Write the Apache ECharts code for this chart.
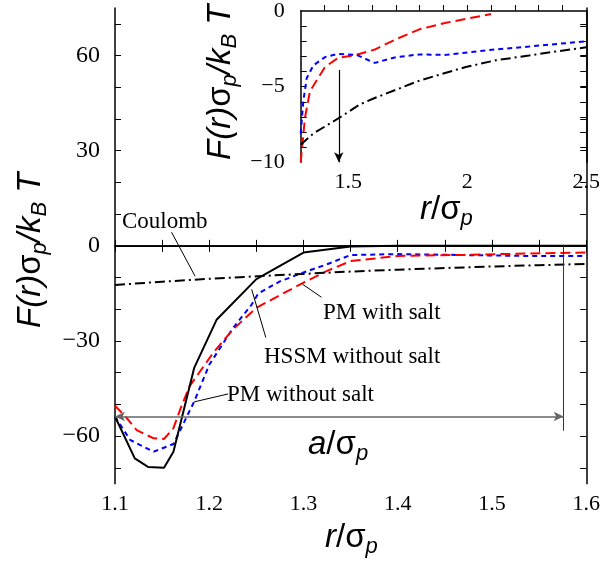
<!DOCTYPE html>
<html>
<head>
<meta charset="utf-8">
<script src="https://cdn.jsdelivr.net/npm/echarts@6/dist/echarts.min.js"></script>
<style>
html, body { margin: 0; padding: 0; background: #fff; }
#chart { width: 603px; height: 564px; }
</style>
</head>
<body>
<div id="chart"></div>
<script>
// main panel: r/σp 1.1 .. 1.6
const hssmR = [1.1, 1.121, 1.135, 1.152, 1.162, 1.184, 1.208, 1.25, 1.3, 1.35, 1.4, 1.5, 1.6];
const hssmF = [-53.8, -67.0, -69.7, -70.0, -64.9, -38.5, -23.2, -10.5, -2.1, -0.2, 0, 0, 0];

const pmNoSaltR = [1.1, 1.116, 1.141, 1.162, 1.184, 1.2, 1.225, 1.245, 1.252, 1.275, 1.3, 1.325, 1.35, 1.4, 1.47, 1.54, 1.6];
const pmNoSaltF = [-53.8, -61.2, -64.9, -62.5, -49.1, -37.5, -26, -18.5, -15, -11.2, -8.4, -5.8, -2.9, -2.6, -2.9, -3.2, -3.2];

const pmSaltR = [1.1, 1.111, 1.123, 1.141, 1.152, 1.162, 1.169, 1.179, 1.204, 1.225, 1.25, 1.3, 1.325, 1.35, 1.4, 1.47, 1.54, 1.6];
const pmSaltF = [-50.4, -53.8, -58.1, -60.7, -60.9, -57.5, -51.7, -44.3, -33.8, -26.4, -19.5, -11.6, -7.9, -4.8, -3.2, -2.85, -2.4, -2.1];

const coulR = [1.1, 1.15, 1.2, 1.25, 1.3, 1.35, 1.4, 1.45, 1.5, 1.55, 1.6];
const coulF = [-12.35, -11.3, -10.4, -9.6, -8.85, -8.1, -7.5, -7.0, -6.5, -6.1, -5.7];

// inset: r/σp 1.3 .. 2.5
const inSaltR = [1.3, 1.318, 1.339, 1.402, 1.457, 1.534, 1.611, 1.701, 1.799, 1.91, 2.1];
const inSaltF = [-10, -7.05, -5.3, -3.7, -3.1, -2.9, -2.55, -1.86, -1.21, -0.78, -0.2];

const inNoSaltR = [1.3, 1.311, 1.325, 1.353, 1.402, 1.457, 1.534, 1.611, 1.701, 1.799, 1.91, 2.078, 2.259, 2.5];
const inNoSaltF = [-8.1, -5.96, -4.45, -3.6, -3.05, -2.83, -2.9, -3.43, -3.05, -2.87, -2.9, -2.6, -2.35, -2.0];

const inCoulR = [1.3, 1.353, 1.464, 1.548, 1.611, 1.701, 1.799, 1.994, 2.119, 2.259, 2.37, 2.5];
const inCoulF = [-8.84, -8.1, -7.04, -6.18, -5.75, -5.2, -4.6, -3.7, -3.26, -2.94, -2.68, -2.4];

// ticks
const mainXLabels = [1.1, 1.2, 1.3, 1.4, 1.5, 1.6];
const mainXTicks = [1.1, 1.15, 1.2, 1.25, 1.3, 1.35, 1.4, 1.45, 1.5, 1.55, 1.6];
const mainYLabels = [-60, -30, 0, 30, 60];
const mainYTicks = [-70, -60, -50, -40, -30, -20, -10, 0, 10, 20, 30, 40, 50, 60, 70];
const inXLabels = [1.5, 2, 2.5];
const inXTicks = [1.4, 1.5, 1.6, 1.7, 1.8, 1.9, 2.0, 2.1, 2.2, 2.3, 2.4];
const inYLabels = [-10, -5, 0];
const inYTicks = [-9, -8, -7, -6, -5, -4, -3, -2, -1];

// annotation anchors (data coords)
const aEnd = 1.576, aLevel = -53.8;
const insetArrowR = 1.46;

const pairs = (xs, ys) => xs.map((x, i) => [x, ys[i]]);
const minus = v => v < 0 ? '\u2212' + Math.abs(v) : String(v);

const serif = 'Liberation Serif';
const sans = 'Liberation Sans';
const axLine = { lineStyle: { color: '#000', width: 1.5 } };

function axis(gridIndex, pos, min, max, labels, ticks, fmt, margin, fs) {
  return {
    type: 'value', gridIndex, position: pos, min, max,
    axisLine: axLine,
    splitLine: { show: false },
    axisTick: { inside: true, length: 6, customValues: ticks, lineStyle: { color: '#000', width: 1 } },
    axisLabel: labels
      ? { customValues: labels, formatter: fmt, margin, fontFamily: serif, fontSize: fs || 22, color: '#000' }
      : { show: false }
  };
}

const rich = {
  i: { fontFamily: sans, fontStyle: 'italic', fontSize: 33, lineHeight: 40, fill: '#000' },
  s: { fontFamily: sans, fontSize: 33, lineHeight: 40, fill: '#000' },
  sub: { fontFamily: sans, fontStyle: 'italic', fontSize: 22, lineHeight: 4, verticalAlign: 'bottom', fill: '#000' }
};
const yName = '{i|F(r)}{s|σ}{sub|p}{i|/k}{sub|B}{i| T}';
const rName = '{i|r}{s|/σ}{sub|p}';
const aName = '{i|a}{s|/σ}{sub|p}';

function richText(text, x, y, rot) {
  return {
    type: 'text', x, y, rotation: rot || 0, silent: true,
    style: { text, rich, align: 'left', verticalAlign: 'top', textAlign: 'left', textVerticalAlign: 'top' }
  };
}
function note(text, x, y) {
  return {
    type: 'text', x, y, silent: true,
    style: { text, font: '23px "Liberation Serif"', fill: '#000', align: 'left', verticalAlign: 'middle', textAlign: 'left', textVerticalAlign: 'middle' }
  };
}

const seg = (p1, p2, extra) => [Object.assign({ coord: p1 }, extra || {}), { coord: p2 }];

const chart = echarts.init(document.getElementById('chart'));
chart.setOption({
  animation: false,
  backgroundColor: '#fff',
  grid: [
    { left: 115, top: 8, width: 472.7, height: 475.7 },
    { left: 300.7, top: 8, width: 286, height: 154.3 }
  ],
  xAxis: [
    axis(0, 'bottom', 1.1, 1.6, mainXLabels, mainXTicks, v => v.toFixed(1), 10, 22),
    axis(0, 'top', 1.1, 1.6, null, mainXTicks),
    axis(1, 'bottom', 1.3, 2.5, inXLabels, inXTicks, v => String(v), 9, 22)
  ],
  yAxis: [
    axis(0, 'left', -75, 75, mainYLabels, mainYTicks, minus, 15, 24),
    axis(0, 'right', -75, 75, null, mainYTicks),
    axis(1, 'left', -10, 0, inYLabels, inYTicks, minus, 16, 22),
    axis(1, 'right', -10, 0, null, inYTicks)
  ],
  series: [
    {
      name: 'HSSM without salt', type: 'line', xAxisIndex: 0, yAxisIndex: 0,
      data: pairs(hssmR, hssmF), symbol: 'none',
      lineStyle: { color: '#000', width: 2 }, z: 4,
      markLine: {
        silent: true, symbol: ['none', 'none'], label: { show: false },
        emphasis: { disabled: true },
        lineStyle: { color: '#000', width: 1, type: 'solid' },
        data: [
          [{ coord: [1.1, 0] }, { coord: [1.6, 0] }],
          seg([1.160, 4.3], [1.185, -9.6]),
          seg([1.299, -12.1], [1.319, -16.2]),
          seg([1.245, -13.7], [1.260, -28.9]),
          seg([1.184, -49.2], [1.220, -46.7]),
          seg([aEnd, 0], [aEnd, -58.3], { lineStyle: { color: '#333', width: 1, type: 'solid' } }),
          [
            { coord: [1.1, aLevel], symbol: 'arrow', symbolSize: [7, 10], lineStyle: { color: '#666', width: 1.5, type: 'solid' } },
            { coord: [aEnd, aLevel], symbol: 'arrow', symbolSize: [7, 10] }
          ]
        ]
      }
    },
    {
      name: 'PM without salt', type: 'line', xAxisIndex: 0, yAxisIndex: 0,
      data: pairs(pmNoSaltR, pmNoSaltF), symbol: 'none',
      lineStyle: { color: '#0000ff', width: 2, type: [5, 4] }, z: 3
    },
    {
      name: 'PM with salt', type: 'line', xAxisIndex: 0, yAxisIndex: 0,
      data: pairs(pmSaltR, pmSaltF), symbol: 'none',
      lineStyle: { color: '#ff0000', width: 2, type: [10, 5] }, z: 3
    },
    {
      name: 'Coulomb', type: 'line', xAxisIndex: 0, yAxisIndex: 0,
      data: pairs(coulR, coulF), symbol: 'none',
      lineStyle: { color: '#000', width: 2, type: [10, 4, 2, 4] }, z: 3
    },
    {
      name: 'PM with salt (inset)', type: 'line', xAxisIndex: 2, yAxisIndex: 2,
      data: pairs(inSaltR, inSaltF), symbol: 'none',
      lineStyle: { color: '#ff0000', width: 2, type: [10, 5] }
    },
    {
      name: 'PM without salt (inset)', type: 'line', xAxisIndex: 2, yAxisIndex: 2,
      data: pairs(inNoSaltR, inNoSaltF), symbol: 'none',
      lineStyle: { color: '#0000ff', width: 2, type: [5, 4] }
    },
    {
      name: 'Coulomb (inset)', type: 'line', xAxisIndex: 2, yAxisIndex: 2,
      data: pairs(inCoulR, inCoulF), symbol: 'none',
      lineStyle: { color: '#000', width: 2, type: [10, 4, 2, 4] },
      markLine: {
        silent: true, label: { show: false }, emphasis: { disabled: true },
        symbol: ['none', 'arrow'], symbolSize: [7, 10],
        lineStyle: { color: '#000', width: 1.2, type: 'solid' },
        data: [[{ coord: [insetArrowR, -3.9] }, { coord: [insetArrowR, -10] }]]
      }
    }
  ],
  graphic: [
    richText(yName, 11, 328, Math.PI / 2),
    richText(yName, 201, 160, Math.PI / 2),
    richText(rName, 325, 518),
    richText(rName, 420, 190),
    richText(aName, 308, 425),
    note('Coulomb', 122, 222),
    note('PM with salt', 323, 313),
    note('HSSM without salt', 264, 357),
    note('PM without salt', 227, 395)
  ]
});
</script>
</body>
</html>
